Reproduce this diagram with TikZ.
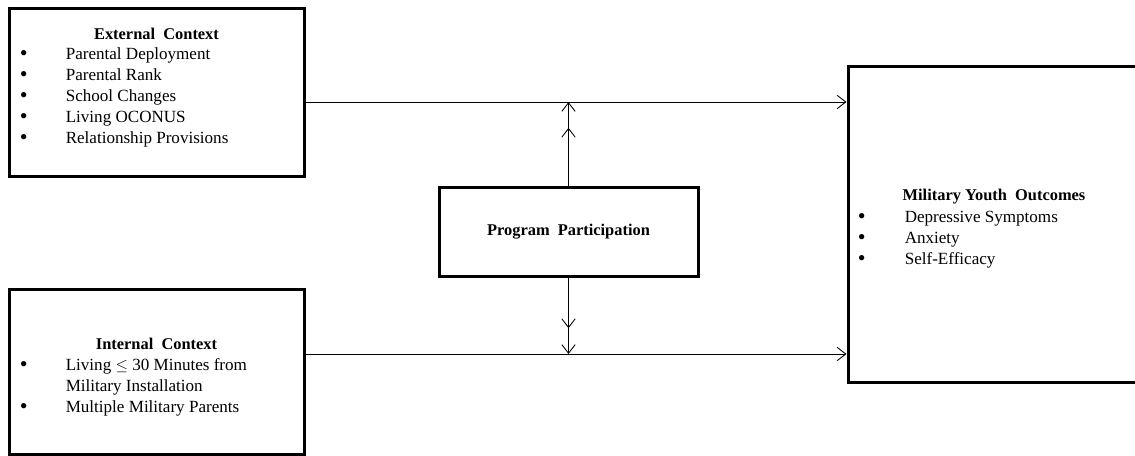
\documentclass[tikz,border=0pt]{standalone}
\usepackage{fontspec}
\setmainfont{Liberation Serif}
\usepackage{array}
\usetikzlibrary{arrows.meta, positioning, calc}
\tikzstyle{bigbox} = [rectangle, draw, line width=2.25pt, inner sep=0pt]
\tikzstyle{boxtitle} = [font=\fontsize{12.3}{15}\selectfont\bfseries, inner sep=0pt]
\tikzstyle{itemlist} = [anchor=north west, inner sep=0pt, font=\fontsize{12.8}{15.75}\selectfont]
\tikzstyle{arrow} = [line width=0.65pt, -{Straight Barb[length=6.5pt,width=10pt]}]
\tikzstyle{dblarrow} = [line width=0.65pt, -{Straight Barb[length=6.5pt,width=10pt,sep=12pt]Straight Barb[length=6.5pt,width=10pt]}]
\newcommand{\itembullet}{\raisebox{-0.15ex}{\scalebox{1.3}{\textbullet}}}

\begin{document}
\begin{tikzpicture}[x=0.75pt, y=-0.75pt]
    \useasboundingbox (0,0) rectangle (1135,456);
    % boxes
    \node (ext) [bigbox, minimum width=221.25pt, minimum height=126pt] at (156.5,93) {};
    \node (int) [bigbox, minimum width=221.25pt, minimum height=123.75pt] at (156.5,371.5) {};
    \node (prog) [bigbox, minimum width=194.25pt, minimum height=66pt] at (568.5,232) {};
    \node (outc) [bigbox, minimum width=219pt, minimum height=236.25pt] at (994,224.5) {};

    % texts
    \node (extT) [boxtitle] at ([yshift=-19.5pt]ext.north) {External\ \ Context};
    \node (extL) [itemlist] at ([shift={(12,37)}]ext.north west) {%
      \begin{tabular}{@{}p{34.5pt}@{}l@{}}
      \itembullet & Parental Deployment\\
      \itembullet & Parental Rank\\
      \itembullet & School Changes\\
      \itembullet & Living OCONUS\\
      \itembullet & Relationship Provisions
      \end{tabular}};
    \node (intT) [boxtitle] at ([yshift=-42pt]int.north) {Internal\ \ Context};
    \node (intL) [itemlist] at ([shift={(12,68)}]int.north west) {%
      \begin{tabular}{@{}p{34.5pt}@{}l@{}}
      \itembullet & Living $\leq$ 30 Minutes from\\
                  & Military Installation\\
      \itembullet & Multiple Military Parents
      \end{tabular}};
    \node (progT) [boxtitle] at (prog.center) {Program\ \ Participation};
    \node (outcT) [boxtitle] at ([yshift=-98.5pt]outc.north) {Military Youth\ \ Outcomes};
    \node (outcL) [itemlist] at ([shift={(11,142)}]outc.north west) {%
      \begin{tabular}{@{}p{35.25pt}@{}l@{}}
      \itembullet & Depressive Symptoms\\
      \itembullet & Anxiety\\
      \itembullet & Self-Efficacy
      \end{tabular}};

    % connectors
    \coordinate (topline) at (0,102);
    \coordinate (botline) at (0,354);
    \draw[arrow] (ext.east |- topline) -- (outc.west |- topline);
    \draw[arrow] (int.east |- botline) -- (outc.west |- botline);
    \draw[dblarrow] (prog.north) -- (prog.north |- topline);
    \draw[dblarrow] (prog.south) -- (prog.south |- botline);
\end{tikzpicture}
\end{document}
